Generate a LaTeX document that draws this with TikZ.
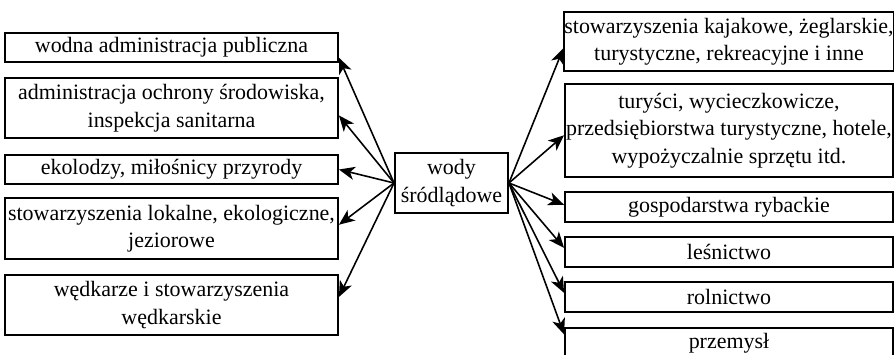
\documentclass[tikz,border=0pt]{standalone}
\usepackage{fontspec}
\setmainfont{Liberation Serif}
\usetikzlibrary{calc,arrows.meta}

\begin{document}
\begin{tikzpicture}[x=0.02cm,y=-0.02cm,
  box/.style={draw, line width=1.1pt, align=center, inner sep=0pt,
    font=\fontsize{12.5}{15.6}\selectfont},
  lbox/.style={box, minimum width=6.66cm},
  rbox/.style={box, minimum width=6.56cm},
  arr/.style={-{Stealth[length=9pt,width=7.5pt,inset=2.5pt]}, line width=0.9pt}]
\useasboundingbox (0,0) rectangle (894,355);
\node[lbox, minimum height=0.58cm] (l1) at (171.5,47.5) {wodna administracja publiczna};
\node[lbox, minimum height=1.2cm] (l2) at (171.5,108) {administracja ochrony środowiska,\\inspekcja sanitarna};
\node[lbox, minimum height=0.58cm] (l3) at (171.5,169.5) {ekolodzy, miłośnicy przyrody};
\node[lbox, minimum height=1.22cm] (l4) at (171.5,228.5) {stowarzyszenia lokalne, ekologiczne,\\jeziorowe};
\node[lbox, minimum height=1.2cm] (l5) at (171.5,305) {wędkarze i stowarzyszenia\\wędkarskie};
\node[box, minimum width=2.26cm, minimum height=1.2cm] (c) at (451.5,183) {wody\\śródlądowe};
\node[rbox, minimum height=1.18cm] (r1) at (729,41.5) {stowarzyszenia kajakowe, żeglarskie,\\turystyczne, rekreacyjne i inne};
\node[rbox, minimum height=1.86cm] (r2) at (729,130.5) {turyści, wycieczkowicze,\\przedsiębiorstwa turystyczne, hotele,\\wypożyczalnie sprzętu itd.};
\node[rbox, minimum height=0.6cm] (r3) at (729,207) {gospodarstwa rybackie};
\node[rbox, minimum height=0.6cm] (r4) at (729,252) {leśnictwo};
\node[rbox, minimum height=0.6cm] (r5) at (729,297) {rolnictwo};
\node[rbox, minimum height=0.6cm] (r6) at (729,343) {przemysł};
\foreach \n/\f in {l1/0.83, l2/0.62, l3/0.5, l4/0.44, l5/0.37}
  \draw[arr] (c.west) -- ($(\n.north east)!\f!(\n.south east)$);
\foreach \n/\f in {r1/0.61, r2/0.55, r3/0.43, r4/0.37, r5/0.37, r6/0.23}
  \draw[arr] (c.east) -- ($(\n.north west)!\f!(\n.south west)$);
\end{tikzpicture}
\end{document}
